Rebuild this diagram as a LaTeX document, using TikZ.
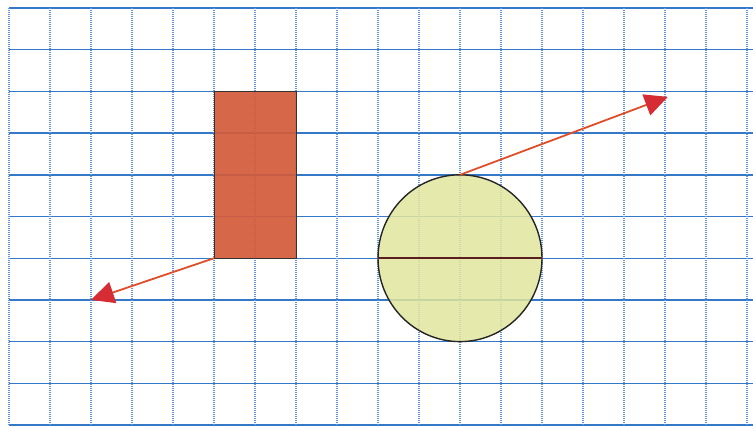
\documentclass[tikz,border=0pt]{standalone}
\usepackage{tikz}
\usetikzlibrary{arrows.meta}
\definecolor{gridblue}{RGB}{52,120,200}
\definecolor{dotblue}{RGB}{100,148,212}
\definecolor{brick}{RGB}{212,90,58}
\definecolor{lime}{RGB}{224,230,158}
\definecolor{arrowred}{RGB}{214,44,52}
\definecolor{lineorange}{RGB}{222,78,40}
\definecolor{darkrust}{RGB}{90,30,30}

\begin{document}
\begin{tikzpicture}[x=20.5pt,y=20.85pt,
  hline/.style={gridblue,line width=0.7pt},
  vline/.style={dotblue,line width=0.6pt,dash pattern=on 0.5pt off 0.5pt},
  shapebox/.style={fill=brick,fill opacity=0.92,draw=black!80,line width=0.5pt},
  disc/.style={fill=lime,fill opacity=0.85,draw=black!85,line width=0.7pt},
  vec/.style={lineorange,line width=0.9pt,-{Triangle[length=11.5pt,width=11pt,color=arrowred]}}]
\useasboundingbox (-0.2195,-0.048) rectangle (18.146,10.192);
% squared paper
\foreach \y in {0,...,10} {
   \draw[hline] (0,\y) -- (18.146,\y);
}
\foreach \x in {0,...,18} {
   \draw[vline] (\x,0) -- (\x,10);
}
% the two figures
\draw[shapebox] (5,4) rectangle (7,8);
\draw[disc] (11,4) circle[radius=2];
\draw[darkrust,line width=0.9pt] (9,4) -- (13,4);
\coordinate (rcorner) at (5,4);
\coordinate (ctop) at (11,6);
\coordinate (tipA) at (2,3);
\coordinate (tipB) at (16.07,7.87);
\draw[vec] (rcorner) -- (tipA);
\draw[vec] (ctop) -- (tipB);
\end{tikzpicture}
\end{document}
